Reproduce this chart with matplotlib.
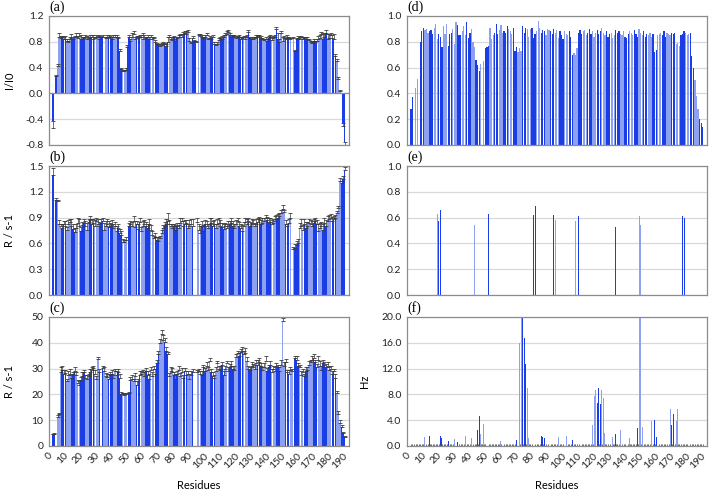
import matplotlib
matplotlib.use("Agg")
import matplotlib.pyplot as plt
import numpy as np
from matplotlib.ticker import FormatStrFormatter, MultipleLocator


nan = np.nan

# DATOS

RESIDUES = list(range(1, 191))
XTICKS = list(range(0, 191, 10))

# (a) I/I0 con error
I_I0 = [
    -0.43, nan, 0.27, 0.42, 0.88, 0.86, 0.87, 0.85, 0.84, 0.82,
    0.80, 0.84, 0.86, 0.85, 0.87, 0.88, 0.86, 0.89, 0.84, 0.85,
    0.86, 0.88, 0.84, 0.86, 0.87, 0.88, 0.85, 0.86, 0.88, 0.87,
    0.85, 0.87, 0.88, nan, 0.86, 0.87, 0.88, 0.86, 0.85, 0.87,
    0.88, 0.87, 0.86, 0.66, 0.38, 0.35, 0.34, 0.37, 0.72, 0.87,
    0.82, 0.88, 0.92, 0.85, 0.87, 0.86, 0.88, 0.87, 0.85, 0.88,
    0.86, 0.88, 0.85, 0.87, 0.84, 0.86, 0.80, 0.76, 0.75, 0.74,
    0.75, 0.77, 0.76, 0.74, 0.80, 0.88, 0.85, 0.83, 0.87, 0.82,
    0.86, 0.88, 0.90, 0.88, 0.92, 0.94, 0.92, 0.95, 0.82, 0.78,
    0.86, 0.81, 0.79, nan, 0.90, 0.89, 0.88, 0.86, 0.87, 0.90,
    0.84, 0.86, 0.85, 0.88, 0.77, 0.75, 0.76, 0.83, 0.86, 0.85,
    0.88, 0.90, 0.92, 0.95, 0.90, 0.88, 0.89, 0.88, 0.86, 0.87,
    0.88, 0.85, 0.86, 0.87, 0.85, 0.88, 0.95, 0.86, 0.85, 0.84,
    0.86, 0.88, 0.89, 0.88, 0.86, 0.84, 0.83, 0.85, 0.82, 0.86,
    0.88, 0.83, 0.86, 0.88, 1.00, 0.85, 0.80, 0.94, 0.82, 0.86,
    0.84, 0.88, 0.86, 0.84, nan, 0.86, 0.65, 0.84, 0.86, 0.85,
    0.87, 0.84, 0.86, 0.85, 0.84, 0.83, 0.80, 0.78, 0.82, 0.80,
    0.82, 0.84, 0.86, 0.92, 0.85, 0.88, 0.94, 0.85, 0.86, 0.90,
    0.86, 0.85, 0.58, 0.50, 0.22, 0.04, nan, -0.46, -0.75, nan,
]
I_I0_ERR = [
    0.10, nan, 0.02, 0.03, 0.05, 0.03, 0.02, 0.02, 0.05, 0.03,
    0.02, 0.04, 0.06, 0.03, 0.02, 0.05, 0.03, 0.04, 0.07, 0.03,
    0.02, 0.03, 0.05, 0.02, 0.04, 0.03, 0.06, 0.02, 0.03, 0.02,
    0.05, 0.02, 0.03, nan, 0.02, 0.04, 0.02, 0.03, 0.02, 0.03,
    0.02, 0.03, 0.02, 0.03, 0.02, 0.02, 0.03, 0.02, 0.03, 0.03,
    0.03, 0.05, 0.04, 0.03, 0.02, 0.03, 0.02, 0.04, 0.08, 0.02,
    0.02, 0.03, 0.02, 0.04, 0.03, 0.02, 0.03, 0.02, 0.02, 0.02,
    0.03, 0.02, 0.02, 0.03, 0.07, 0.03, 0.02, 0.04, 0.02, 0.03,
    0.02, 0.03, 0.02, 0.04, 0.03, 0.02, 0.05, 0.03, 0.04, 0.02,
    0.03, 0.02, 0.02, nan, 0.02, 0.03, 0.02, 0.02, 0.03, 0.03,
    0.02, 0.03, 0.02, 0.03, 0.02, 0.02, 0.03, 0.03, 0.02, 0.04,
    0.02, 0.03, 0.05, 0.04, 0.03, 0.02, 0.02, 0.02, 0.03, 0.02,
    0.02, 0.03, 0.02, 0.02, 0.04, 0.03, 0.04, 0.02, 0.02, 0.03,
    0.02, 0.03, 0.02, 0.02, 0.03, 0.02, 0.02, 0.03, 0.02, 0.03,
    0.02, 0.05, 0.03, 0.02, 0.03, 0.08, 0.04, 0.03, 0.06, 0.03,
    0.02, 0.03, 0.02, 0.02, nan, 0.02, 0.02, 0.02, 0.03, 0.02,
    0.02, 0.03, 0.02, 0.02, 0.03, 0.02, 0.02, 0.04, 0.03, 0.02,
    0.03, 0.05, 0.04, 0.03, 0.08, 0.04, 0.05, 0.07, 0.06, 0.04,
    0.05, 0.07, 0.03, 0.03, 0.03, 0.02, nan, 0.04, 0.05, nan,
]

# (b) R / s-1 con error
R1 = [
    1.40, nan, 1.10, 1.09, 0.83, 0.80, 0.78, 0.82, 0.80, 0.76,
    0.82, 0.85, 0.80, 0.77, 0.73, 0.78, 0.84, 0.80, 0.74, 0.81,
    0.84, 0.80, 0.76, 0.85, 0.87, 0.82, 0.84, 0.80, 0.86, 0.82,
    0.80, 0.84, 0.86, 0.76, 0.80, 0.83, 0.79, 0.80, 0.82, 0.78,
    0.80, 0.74, 0.78, 0.72, 0.70, 0.62, 0.62, 0.64, nan, 0.80,
    0.83, 0.80, 0.86, 0.79, 0.82, 0.77, 0.85, 0.74, 0.80, 0.83,
    0.80, 0.78, 0.82, 0.76, 0.70, 0.66, 0.68, 0.64, 0.63, 0.66,
    0.72, 0.78, 0.80, 0.82, 0.86, 0.83, 0.80, 0.78, 0.80, 0.76,
    0.80, 0.78, 0.84, 0.86, 0.80, 0.82, 0.84, 0.78, 0.80, 0.83,
    0.80, nan, nan, 0.85, 0.76, 0.72, 0.80, 0.74, 0.82, 0.80,
    0.78, 0.82, 0.84, 0.80, 0.83, 0.78, 0.82, 0.84, 0.80, 0.79,
    0.77, 0.80, 0.78, 0.80, 0.82, 0.84, 0.80, 0.78, 0.82, 0.86,
    0.80, 0.78, 0.75, 0.80, 0.85, 0.82, 0.86, 0.80, 0.84, 0.82,
    0.80, 0.83, 0.85, 0.88, 0.82, 0.84, 0.86, 0.90, 0.87, 0.85,
    0.85, 0.82, 0.84, 0.86, 0.88, 0.90, 0.92, 0.95, 1.00, 0.96,
    0.82, 0.80, 0.84, 0.90, nan, 0.53, 0.55, 0.58, 0.60, 0.78,
    0.80, 0.76, 0.82, 0.78, 0.80, 0.84, 0.82, 0.80, 0.84, 0.86,
    0.82, 0.75, 0.78, 0.80, 0.76, 0.84, 0.80, 0.86, 0.88, 0.90,
    0.86, 0.88, 0.90, 0.95, 1.01, 1.33, 1.30, 1.35, 1.45, nan,
]
R1_ERR = [
    0.08, nan, 0.03, 0.02, 0.04, 0.03, 0.05, 0.04, 0.06, 0.03,
    0.05, 0.03, 0.08, 0.06, 0.05, 0.04, 0.06, 0.08, 0.05, 0.04,
    0.04, 0.06, 0.08, 0.03, 0.05, 0.06, 0.04, 0.07, 0.04, 0.06,
    0.05, 0.04, 0.03, 0.08, 0.06, 0.05, 0.07, 0.04, 0.05, 0.04,
    0.05, 0.06, 0.04, 0.05, 0.04, 0.03, 0.02, 0.03, nan, 0.04,
    0.03, 0.05, 0.06, 0.07, 0.04, 0.06, 0.05, 0.05, 0.06, 0.04,
    0.05, 0.04, 0.06, 0.05, 0.04, 0.03, 0.04, 0.03, 0.04, 0.03,
    0.04, 0.03, 0.05, 0.06, 0.09, 0.04, 0.03, 0.04, 0.03, 0.05,
    0.04, 0.03, 0.05, 0.04, 0.06, 0.05, 0.03, 0.04, 0.07, 0.05,
    0.08, nan, nan, 0.04, 0.07, 0.08, 0.06, 0.07, 0.05, 0.06,
    0.05, 0.07, 0.05, 0.06, 0.04, 0.05, 0.06, 0.05, 0.07, 0.05,
    0.06, 0.04, 0.05, 0.06, 0.04, 0.05, 0.06, 0.04, 0.05, 0.03,
    0.05, 0.04, 0.06, 0.05, 0.04, 0.06, 0.03, 0.05, 0.04, 0.05,
    0.04, 0.05, 0.04, 0.03, 0.05, 0.06, 0.04, 0.03, 0.04, 0.05,
    0.04, 0.05, 0.04, 0.06, 0.05, 0.04, 0.03, 0.04, 0.05, 0.03,
    0.05, 0.03, 0.04, 0.05, nan, 0.03, 0.04, 0.05, 0.05, 0.06,
    0.08, 0.05, 0.06, 0.07, 0.05, 0.04, 0.05, 0.06, 0.04, 0.03,
    0.05, 0.08, 0.06, 0.05, 0.07, 0.05, 0.07, 0.06, 0.05, 0.04,
    0.05, 0.04, 0.03, 0.03, 0.02, 0.03, 0.03, 0.03, 0.04, nan,
]

# (c) R / s-1 con error
R2 = [
    4.5, 4.7, nan, 11.2, 12.3, 28.5, 29.5, 27.8, 28.2, 25.0,
    27.5, 28.0, 26.5, 27.8, 29.0, 27.5, 24.5, 23.5, 25.5, 27.0,
    28.5, 26.5, 26.0, 27.0, 28.5, 29.5, 30.2, 28.0, 26.0, 33.8,
    28.5, nan, 30.2, 29.0, 27.2, 26.8, 26.0, 27.5, 28.0, 26.5,
    29.0, 27.5, 28.5, 26.5, 20.0, 20.0, 19.8, 20.2, nan, 20.5,
    25.5, 26.0, 25.0, 27.0, 23.5, 25.0, 27.5, 28.0, 28.5, 27.0,
    29.0, 27.5, 26.0, 29.5, 27.0, 30.0, 28.0, 32.0, 35.5, 40.0,
    43.5, 41.0, 40.5, 37.0, 35.5, 27.0, 29.0, 28.5, 27.5, 26.0,
    28.0, 29.5, 27.0, 28.5, 26.5, 29.0, 27.5, 28.0, 26.0, 27.5,
    28.5, nan, nan, 28.5, 29.0, 28.0, 27.5, 30.5, 29.0, 31.0,
    29.5, 33.0, 28.5, 27.0, 26.5, 29.0, 32.0, 30.0, 29.5, 31.5,
    27.5, 30.0, 32.0, 29.0, 30.5, 31.0, 30.0, 29.5, 34.5, 36.0,
    35.0, 36.5, 37.0, 35.5, 36.0, 33.0, 30.0, 29.5, 31.0, 30.5,
    30.0, 32.0, 31.5, 32.5, 31.0, 29.5, 30.5, 33.0, 29.0, 30.5,
    31.5, 28.5, 30.0, 29.0, 31.0, 30.5, 29.0, 31.5, 48.5, 31.0,
    32.5, 28.5, 28.0, 29.5, 29.0, nan, 34.0, 33.5, 31.0, 30.5,
    27.5, 28.5, 27.0, 29.0, 29.5, 31.5, 32.5, 33.5, 34.0, 32.5,
    30.5, 33.5, 31.0, 29.5, 32.0, 31.5, 30.5, 31.0, 29.5, 30.0,
    28.0, 29.0, 26.5, 20.5, 12.5, 9.0, 7.5, 5.0, 3.5, nan,
]
R2_ERR = [
    0.3, 0.3, nan, 0.8, 0.5, 2.0, 1.5, 1.8, 1.2, 1.0,
    1.5, 1.8, 1.2, 1.0, 1.5, 1.2, 1.0, 1.5, 1.2, 1.8,
    1.0, 1.2, 1.5, 1.0, 1.2, 1.0, 0.8, 1.5, 1.2, 0.6,
    1.2, nan, 0.8, 1.5, 1.0, 1.2, 1.8, 1.0, 1.5, 1.2,
    1.0, 1.5, 1.2, 1.5, 0.8, 0.5, 0.6, 0.5, nan, 0.6,
    1.2, 1.5, 1.0, 1.2, 1.5, 1.0, 1.5, 1.2, 1.0, 1.8,
    1.2, 1.5, 1.8, 1.0, 1.5, 1.2, 1.8, 1.5, 1.2, 1.5,
    1.5, 2.0, 1.2, 1.5, 1.0, 1.2, 1.5, 1.8, 1.2, 2.0,
    1.0, 1.5, 1.2, 1.8, 1.0, 1.2, 1.5, 1.0, 1.8, 1.5,
    1.2, nan, nan, 1.0, 0.8, 1.2, 1.5, 1.0, 1.2, 1.5,
    1.0, 1.2, 1.5, 1.8, 1.2, 1.5, 1.0, 1.2, 1.5, 1.0,
    1.5, 1.2, 1.0, 1.5, 1.2, 1.8, 1.0, 1.5, 1.2, 1.0,
    1.2, 1.0, 1.5, 1.2, 1.8, 1.5, 1.2, 1.0, 1.5, 1.2,
    1.5, 1.2, 1.8, 1.5, 1.2, 1.0, 1.5, 1.8, 1.2, 1.0,
    1.5, 1.2, 1.0, 1.5, 1.2, 1.0, 1.5, 1.8, 1.0, 1.5,
    1.2, 1.0, 1.5, 1.2, 1.0, nan, 0.8, 1.5, 1.2, 1.0,
    1.5, 1.2, 1.0, 1.5, 1.2, 1.5, 1.0, 1.2, 1.5, 1.0,
    1.2, 1.5, 1.8, 1.5, 1.2, 1.0, 1.2, 1.5, 1.0, 1.2,
    1.2, 1.0, 1.5, 1.0, 1.2, 1.0, 0.8, 0.5, 0.5, nan,
]

# (d) sin error
PANEL_D = [
    0.28, 0.37, nan, 0.44, 0.51, nan, 0.80, 0.88, 0.91, 0.89,
    0.90, 0.87, 0.88, 0.89, 0.86, 0.91, 0.94, 0.82, 0.86, 0.84,
    0.76, 0.92, 0.86, 0.94, 0.77, 0.86, 0.87, 0.90, 0.78, 0.95,
    0.93, 0.85, 0.85, 0.88, 0.92, 0.85, 0.95, 0.83, 0.87, 0.90,
    0.80, 0.76, 0.66, 0.62, 0.57, 0.63, nan, 0.65, 0.75, 0.76,
    0.77, 0.91, 0.82, 0.85, 0.87, 0.94, 0.86, 0.89, 0.93, 0.87,
    0.88, 0.87, 0.92, 0.90, 0.88, 0.86, 0.91, 0.73, 0.76, 0.72,
    0.75, 0.73, 0.92, 0.87, 0.91, 0.90, 0.84, 0.90, 0.91, 0.83,
    0.86, 0.88, 0.96, 0.91, 0.87, 0.89, 0.88, 0.85, 0.90, 0.89,
    0.88, 0.86, 0.90, 0.87, 0.89, 0.83, 0.88, 0.85, 0.82, 0.88,
    0.86, 0.85, 0.88, 0.84, 0.70, 0.71, 0.70, 0.75, 0.87, 0.89,
    0.86, 0.88, 0.89, 0.85, 0.87, 0.90, 0.86, 0.88, 0.84, 0.87,
    0.89, 0.86, 0.88, 0.91, 0.87, 0.85, 0.88, 0.84, 0.86, 0.87,
    0.83, 0.85, 0.89, 0.87, 0.88, 0.86, 0.85, 0.88, 0.84, 0.83,
    0.86, 0.88, 0.87, 0.85, 0.89, 0.86, 0.84, 0.90, 0.87, 0.85,
    0.88, 0.84, 0.86, 0.85, 0.87, 0.84, 0.86, 0.72, 0.74, 0.85,
    0.86, 0.87, 0.85, 0.88, 0.84, 0.87, 0.86, 0.85, 0.87, 0.86,
    0.87, 0.78, 0.79, 0.77, 0.85, 0.86, 0.88, 0.87, 0.85, 0.86,
    0.87, 0.69, 0.60, 0.50, 0.38, 0.28, 0.20, 0.17, 0.14, nan,
]

# (e) pocos residuos
E_RES = [18, 19, 20, 42, 51, 80, 81, 93, 94, 107, 109, 133, 148, 149, 166, 176, 177]
E_VAL = [0.63, 0.57, 0.66, 0.54, 0.63, 0.62, 0.69, 0.62, 0.58, 0.57,
         0.61, 0.53, 0.61, 0.54, 0.52, 0.61, 0.60]

# (f) Hz
F_RES = [10, 12, 13, 20, 21, 25, 29, 31, 36, 40, 41, 44, 45, 46, 48, 50,
         59, 69, 70, 71, 72, 73, 74, 75, 76, 77, 85, 86, 87, 96, 101, 105,
         118, 119, 120, 121, 122, 123, 124, 125, 126, 131, 133, 136, 142,
         147, 148, 149, 150, 156, 158, 159, 168, 169, 170, 172, 173]
F_VAL = [1.4, 1.5, 1.5, 1.5, 1.3, 0.8, 1.1, 0.6, 1.5, 1.3, 1.8, 2.5, 4.6, 1.9, 3.4, 1.9,
         0.7, 1.0, 10.7, 16.0, 20.0, 20.0, 16.8, 12.7, 9.0, 1.3, 1.6, 1.4, 1.3, 1.4, 1.5, 0.9,
         3.2, 7.8, 8.7, 6.7, 9.0, 6.5, 8.7, 7.4, 2.0, 1.4, 1.9, 2.5, 1.3,
         2.8, 20.0, 20.0, 3.0, 3.9, 4.1, 1.4, 5.8, 3.3, 5.0, 3.9, 5.8]


# ESTILO

DARK = "#1b3de6"
LIGHT = "#8ea1f0"
GRID = "#d9d9d9"
SPINE = "#8c8c8c"

plt.rcParams["font.family"] = "Lato"
plt.rcParams["font.size"] = 7


def colores(residuos):
    return [DARK if ((r - 1) // 3) % 2 == 0 else LIGHT for r in residuos]


def error_hacia_fuera(valores, errores):
    # solo la mitad que sale de la barra, como en el original
    v = np.array(valores, dtype=float)
    e = np.array(errores, dtype=float)
    abajo = np.where(v < 0, e, 0.0)
    arriba = np.where(v >= 0, e, 0.0)
    return np.vstack([abajo, arriba])


def preparar_eje(ax, ylim, paso, fmt, con_xlabels):
    ax.set_xlim(-1.5, 191.5)
    ax.set_ylim(*ylim)
    ax.yaxis.set_major_locator(MultipleLocator(paso))
    ax.yaxis.set_major_formatter(FormatStrFormatter(fmt))
    ax.yaxis.grid(True, color=GRID, linewidth=0.9)
    ax.set_axisbelow(True)
    for spine in ax.spines.values():
        spine.set_color(SPINE)
        spine.set_linewidth(0.9)
    ax.tick_params(axis="y", length=0, pad=4, labelsize=7.5, colors="#222222")
    ax.set_xticks(XTICKS)
    if con_xlabels:
        ax.set_xticklabels([str(t) for t in XTICKS], rotation=45,
                           ha="right", va="center", rotation_mode="anchor")
        ax.tick_params(axis="x", length=0, pad=6, labelsize=7.5, colors="#222222")
        ax.set_xlabel("Residues", fontsize=8, labelpad=7)
    else:
        ax.set_xticklabels([])
        ax.tick_params(axis="x", length=0)


def etiqueta(ax, texto):
    ax.text(0.0, 1.015, texto, transform=ax.transAxes, ha="left", va="bottom",
            fontsize=10, family="Liberation Serif")


# FIGURA

fig = plt.figure(figsize=(7.09, 4.92), dpi=100)

izq, der, ancho = 0.0691, 0.5741, 0.4225
alto = 0.2622
fondos = [0.7053, 0.4004, 0.0935]

ax_a = fig.add_axes([izq, fondos[0], ancho, alto])
ax_b = fig.add_axes([izq, fondos[1], ancho, alto])
ax_c = fig.add_axes([izq, fondos[2], ancho, alto])
ax_d = fig.add_axes([der, fondos[0], ancho, alto])
ax_e = fig.add_axes([der, fondos[1], ancho, alto])
ax_f = fig.add_axes([der, fondos[2], ancho, alto])

col = colores(RESIDUES)
err_kw = dict(ecolor="#3a3a3a", elinewidth=0.5, capsize=1.5, capthick=0.6)

# (a)
ax_a.bar(RESIDUES, I_I0, width=0.9, color=col,
         yerr=error_hacia_fuera(I_I0, I_I0_ERR), error_kw=err_kw)
ax_a.axhline(0, color=SPINE, linewidth=0.9, zorder=1)
preparar_eje(ax_a, (-0.8, 1.2), 0.4, "%.1f", False)
ax_a.set_ylabel("I/I0", fontsize=8)
ax_a.yaxis.set_label_coords(-0.115, 0.5)
etiqueta(ax_a, "(a)")

# (b)
ax_b.bar(RESIDUES, R1, width=0.9, color=col,
         yerr=error_hacia_fuera(R1, R1_ERR), error_kw=err_kw)
preparar_eje(ax_b, (0, 1.5), 0.3, "%.1f", False)
ax_b.set_ylabel("R / s-1", fontsize=8)
ax_b.yaxis.set_label_coords(-0.115, 0.5)
etiqueta(ax_b, "(b)")

# (c)
ax_c.bar(RESIDUES, R2, width=0.9, color=col,
         yerr=error_hacia_fuera(R2, R2_ERR), error_kw=err_kw)
preparar_eje(ax_c, (0, 50), 10, "%d", True)
ax_c.set_ylabel("R / s-1", fontsize=8)
ax_c.yaxis.set_label_coords(-0.115, 0.5)
etiqueta(ax_c, "(c)")

# (d)
ax_d.bar(RESIDUES, PANEL_D, width=0.8, color=col)
preparar_eje(ax_d, (0, 1.0), 0.2, "%.1f", False)
etiqueta(ax_d, "(d)")

# (e)
ax_e.bar(E_RES, E_VAL, width=0.6, color=colores(E_RES))
preparar_eje(ax_e, (0, 1.0), 0.2, "%.1f", False)
etiqueta(ax_e, "(e)")

# (f)
ax_f.bar(F_RES, F_VAL, width=0.6, color=colores(F_RES))
preparar_eje(ax_f, (0, 20), 4, "%.1f", True)
ax_f.set_xticks(RESIDUES, minor=True)
ax_f.tick_params(axis="x", which="minor", direction="in", length=1.5,
                 width=0.6, color="#444444")
ax_f.set_ylabel("Hz", fontsize=8)
ax_f.yaxis.set_label_coords(-0.125, 0.5)
etiqueta(ax_f, "(f)")

fig.savefig("out.png", dpi=100)
